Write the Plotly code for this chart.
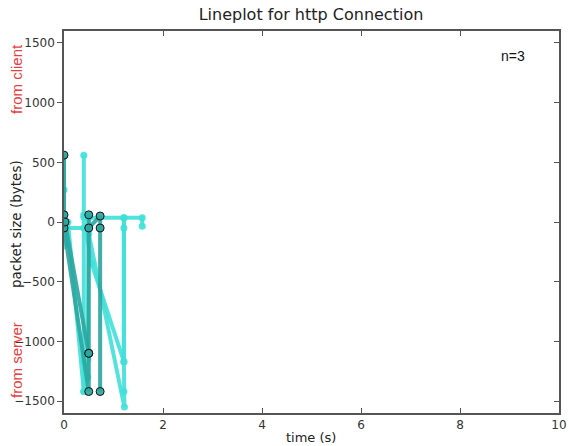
import plotly.graph_objects as go

# Connection A (cyan)
a_t = [0, 0, 0, 0, 0.40, 0.40, 0.40, 0.40, 0.40, 0.40, 0.56, 1.21, 1.21, 1.58, 1.58]
a_v = [560, 270, 60, -50, -50, 60, 560, -1170, -1420, 40, -350, -1170, 35, 35, -35]
# Connection B (cyan)
b_t = [0.02, 0.08, 0.40, 0.48, 0.48, 0.50, 0.50, 1.22, 1.21, 1.21, 1.21, 1.21, 0.50]
b_v = [-200, 0, -1420, -1300, -1150, 60, -100, -1550, -1420, -1170, -50, 35, 35]
# Connection C (dark teal)
c_t = [0, 0, 0, 0.50, 0.50, 0.50, 0.50, 0.73, 0.73, 0.73, None, 0.02, 0.50]
c_v = [560, 60, -50, -1420, -1100, 60, -50, 50, -50, -1420, None, 0, -1100]

xticks = [0, 2, 4, 6, 8, 10]
yticks = [-1500, -1000, -500, 0, 500, 1000, 1500]

cyan = "rgba(64,224,216,0.9)"
dark = "rgba(42,165,160,0.9)"

W, H = 569, 446
L, R, T, B = 64, 10, 31, 33
pw, ph = W - L - R, H - T - B

def px2paper(px, py):
    return (px - L) / pw, 1 - (py - T) / ph

fig = go.Figure()
fig.add_trace(go.Scatter(x=a_t, y=a_v, mode="lines+markers",
                         line=dict(color=cyan, width=4),
                         marker=dict(color=cyan, size=7), showlegend=False))
fig.add_trace(go.Scatter(x=b_t, y=b_v, mode="lines+markers",
                         line=dict(color=cyan, width=4),
                         marker=dict(color=cyan, size=7), showlegend=False))
fig.add_trace(go.Scatter(x=c_t, y=c_v, mode="lines+markers",
                         line=dict(color=dark, width=4),
                         marker=dict(color=dark, size=8, line=dict(color="#111", width=1)),
                         showlegend=False))
fig.add_trace(go.Scatter(x=[None], y=[None], yaxis="y2", showlegend=False))

axcol = "#555"

def ann(text, px, py, size, color, angle=0, family=None):
    x, y = px2paper(px, py)
    f = dict(size=size, color=color)
    if family:
        f["family"] = family
    return dict(text=text, x=x, y=y, xref="paper", yref="paper", showarrow=False,
                xanchor="center", yanchor="middle", textangle=angle, font=f)

fig.update_layout(
    width=W, height=H,
    margin=dict(l=L, r=R, t=T, b=B, autoexpand=False),
    paper_bgcolor="white", plot_bgcolor="white",
    font=dict(family="DejaVu Sans", size=12, color="#333"),
    title=dict(text="Lineplot for http Connection", x=311 / W, xanchor="center",
               y=1 - 14 / H, yanchor="middle", font=dict(size=16, color="#222")),
    xaxis=dict(range=[0, 10], tickvals=xticks, ticks="inside", ticklen=5,
               tickcolor=axcol, showline=True, linecolor=axcol, linewidth=1.5,
               mirror="ticks", showgrid=False, zeroline=False, automargin=False),
    yaxis=dict(range=[-1600, 1600], tickvals=yticks, ticks="outside", ticklen=5,
               tickcolor=axcol, showline=True, linecolor=axcol, linewidth=1.5,
               showgrid=False, zeroline=False, automargin=False),
    yaxis2=dict(range=[-1600, 1600], tickvals=yticks, overlaying="y", side="right",
                ticks="inside", ticklen=5, tickcolor=axcol, showticklabels=False,
                showline=True, linecolor=axcol, linewidth=1.5, showgrid=False,
                zeroline=False, automargin=False),
    annotations=[
        ann("n=3", 513, 56, 14, "#111", family="Liberation Sans"),
        ann("time (s)", 311, 437, 13, "#222"),
        ann("packet size (bytes)", 16, 224, 13.5, "#222", -90),
        ann("from client", 16, 79, 15, "#e84040", -90, family="Liberation Sans"),
        ann("from server", 16, 360, 15, "#e84040", -90, family="Liberation Sans"),
    ],
)

fig.write_html("out.html")
